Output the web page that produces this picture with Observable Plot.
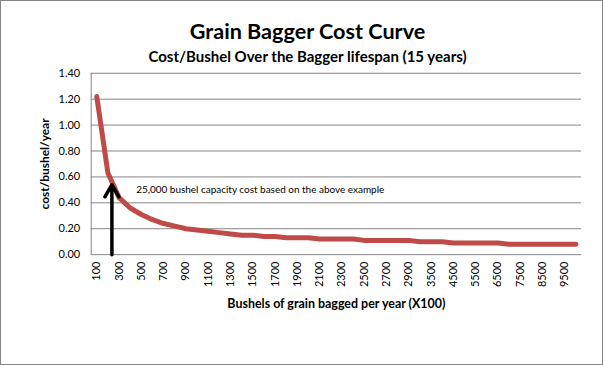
<!DOCTYPE html>
<html><head><meta charset="utf-8">
<script src="https://cdn.jsdelivr.net/npm/d3@7"></script>
<script src="https://cdn.jsdelivr.net/npm/@observablehq/plot@0.6"></script>
<style>
body{margin:0;background:#fff;}
#chart{position:relative;width:603px;height:365px;box-sizing:border-box;border:1px solid #868686;font-family:Lato,"Open Sans",sans-serif;overflow:hidden;}
#chart svg{position:absolute;left:-1px;top:-1px;}
.title{position:absolute;left:5px;width:603px;text-align:center;font-weight:bold;color:#000;white-space:nowrap;}
#t1{top:20px;font-size:21.6px;line-height:21px;}
#t2{top:48px;font-size:15px;line-height:15px;}
</style></head><body>
<div id="chart">
<div class="title" id="t1">Grain Bagger Cost Curve</div>
<div class="title" id="t2">Cost/Bushel Over the Bagger lifespan (15 years)</div>
</div>
<script>
const categories = [100,200,300,400,500,600,700,800,900,1000,1100,1200,1300,1400,1500,1600,1700,1800,1900,2000,2100,2200,2300,2400,2500,2600,2700,2800,2900,3000,3500,4000,4500,5000,5500,6000,6500,7000,7500,8000,8500,9000,9500,10000];
const costPerBushel = [1.22,0.63,0.44,0.36,0.31,0.27,0.24,0.22,0.20,0.19,0.18,0.17,0.16,0.15,0.15,0.14,0.14,0.13,0.13,0.13,0.12,0.12,0.12,0.12,0.11,0.11,0.11,0.11,0.11,0.10,0.10,0.10,0.09,0.09,0.09,0.09,0.09,0.08,0.08,0.08,0.08,0.08,0.08,0.08];
const xTickLabels = [100,300,500,700,900,1100,1300,1500,1700,1900,2100,2300,2500,2700,2900,3500,4500,5500,6500,7500,8500,9500];
const yTicks = [0,0.2,0.4,0.6,0.8,1.0,1.2,1.4];
const yTitle = "cost/bushel/year";
const xTitle = "Bushels of grain bagged per year (X100)";
const noteText = "25,000 bushel capacity cost based on the above example";
const noteCategory = "400";
const noteValue = 0.50;
const arrowCategory = "200";
const arrowFromValue = 0;
const arrowToValue = 0.54;

const data = categories.map((c, i) => ({cat: String(c), cost: costPerBushel[i]}));

const leftAxisLine = (index, scales, values, dims) => {
  const l = document.createElementNS("http://www.w3.org/2000/svg", "line");
  l.setAttribute("x1", dims.marginLeft + 0.5);
  l.setAttribute("x2", dims.marginLeft + 0.5);
  l.setAttribute("y1", dims.marginTop);
  l.setAttribute("y2", dims.height - dims.marginBottom);
  l.setAttribute("stroke", "#868686");
  return l;
};

const plot = Plot.plot({
  width: 603,
  height: 365,
  marginLeft: 91,
  marginRight: 20,
  marginTop: 73,
  marginBottom: 110,
  style: {fontFamily: "Lato, 'Open Sans', sans-serif", fontSize: "11px", color: "#000", background: "transparent", overflow: "visible"},
  x: {type: "point", domain: categories.map(String), padding: 0.5, round: false, ticks: xTickLabels.map(String), tickRotate: -90, tickSize: 0, tickPadding: 7, label: null},
  y: {domain: [0, 1.4], ticks: yTicks, tickFormat: d3.format(".2f"), tickSize: 0, tickPadding: 11, label: null},
  marks: [
    Plot.ruleY(yTicks, {stroke: "#868686", strokeWidth: 1}),
    leftAxisLine,
    Plot.line(data, {x: "cat", y: "cost", stroke: "#BE4B48", strokeWidth: 5, strokeLinejoin: "round", strokeLinecap: "round"}),
    Plot.arrow([{c: arrowCategory, a: arrowFromValue, b: arrowToValue}], {x1: "c", x2: "c", y1: "a", y2: "b", dx: 4, stroke: "#000", strokeWidth: 3.5, headLength: 6, headAngle: 60}),
    Plot.text([noteText], {x: () => noteCategory, y: () => noteValue, text: d => d, textAnchor: "start", dx: 6, fontSize: 10, fill: "#000"}),
    Plot.text([yTitle], {frameAnchor: "left", text: d => d, rotate: -90, dx: -46, textAnchor: "middle", fontWeight: "bold", fontSize: 12, fill: "#000"}),
    Plot.text([xTitle], {frameAnchor: "bottom", text: d => d, dy: 50, lineAnchor: "middle", fontWeight: "bold", fontSize: 12.5, fill: "#000"})
  ]
});
document.getElementById("chart").appendChild(plot);
</script>
</body></html>
